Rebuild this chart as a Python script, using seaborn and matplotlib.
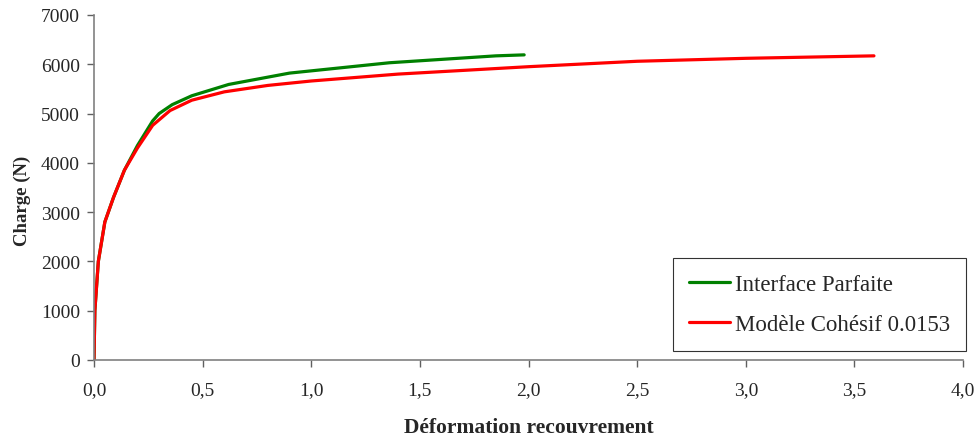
import matplotlib
matplotlib.use('Agg')
import matplotlib.pyplot as plt
import seaborn as sns
import pandas as pd
import numpy as np

# Courbes charge / deformation
x_parfaite = [0.0, 0.004, 0.02, 0.05, 0.09, 0.14, 0.2, 0.27, 0.3, 0.36, 0.45, 0.62, 0.9, 1.36, 1.85, 1.98]
y_parfaite = [0, 1000, 2000, 2800, 3300, 3850, 4350, 4850, 5000, 5180, 5360, 5590, 5820, 6030, 6170, 6190]

x_cohesif = [0.0, 0.004, 0.02, 0.05, 0.09, 0.14, 0.2, 0.27, 0.35, 0.45, 0.6, 0.8, 1.0, 1.4, 2.0, 2.5, 3.0, 3.59]
y_cohesif = [0, 1000, 2000, 2800, 3300, 3850, 4300, 4760, 5060, 5270, 5440, 5570, 5660, 5800, 5950, 6060, 6120, 6170]

labels = ['Interface Parfaite', 'Modèle Cohésif 0.0153']
colors = ['#008000', '#ff0000']

xticks = np.arange(0, 4.01, 0.5)
yticks = np.arange(0, 7001, 1000)

df = pd.concat([
    pd.DataFrame({'x': x_parfaite, 'y': y_parfaite, 'serie': labels[0]}),
    pd.DataFrame({'x': x_cohesif, 'y': y_cohesif, 'serie': labels[1]}),
])

sns.set_style('ticks')
plt.rcParams['font.family'] = ['Liberation Serif', 'DejaVu Serif']

fig = plt.figure(figsize=(9.76, 4.39), dpi=100)
ax = fig.add_axes([0.0963, 0.1777, 0.8904, 0.786])

sns.lineplot(data=df, x='x', y='y', hue='serie', palette=colors, sort=False,
             estimator=None, linewidth=2.3, ax=ax)

ax.set_xlim(0, 4.0)
ax.set_ylim(0, 7000)
ax.set_xticks(xticks)
ax.set_xticklabels([f'{t:.1f}'.replace('.', ',') for t in xticks], fontsize=14)
ax.set_yticks(yticks)
ax.set_yticklabels([str(int(t)) for t in yticks], fontsize=14)
ax.tick_params(direction='out', length=5, width=1, color='#606060')
ax.tick_params(axis='x', pad=10)
ax.tick_params(axis='y', pad=5)

for s in ['top', 'right']:
    ax.spines[s].set_visible(False)
for s in ['left', 'bottom']:
    ax.spines[s].set_color('#808080')
    ax.spines[s].set_linewidth(1.2)

ax.set_xlabel('Déformation recouvrement', fontsize=15.5, fontweight='bold', labelpad=14)
ax.set_ylabel('Charge (N)', fontsize=13.5, fontweight='bold')
ax.yaxis.set_label_coords(-0.072, 0.465)

leg = ax.legend(loc='lower right', bbox_to_anchor=(1.004, 0.025), fontsize=16.5, frameon=True,
                fancybox=False, edgecolor='black', handlelength=1.75, labelspacing=0.85,
                borderpad=0.7, handletextpad=0.25, borderaxespad=0)
leg.get_frame().set_linewidth(0.8)
for line in leg.get_lines():
    line.set_linewidth(2.3)

fig.savefig('out.png', dpi=100)
